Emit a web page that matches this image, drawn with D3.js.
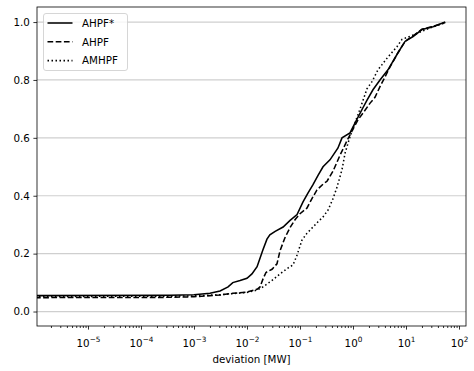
<!DOCTYPE html>
<html>
<head>
<meta charset="utf-8">
<script src="https://cdn.jsdelivr.net/npm/d3@7"></script>
<style>
  body { margin: 0; background: #fff; }
  text { font-family: "DejaVu Sans", sans-serif; fill: #000; }
</style>
</head>
<body>
<div id="chart"></div>
<script>
// ─── Daten ────────────────────────────────────────────────────────────────────

const seriesNames = ['AHPF*', 'AHPF', 'AMHPF'];

// deviation [MW] / kumulierter Anteil
const ahpfStarX = [1e-6, 3.5e-4, 1e-3, 2.0e-3, 3.1e-3, 4.4e-3, 5.4e-3, 7.4e-3, 1.0e-2, 1.24e-2,
  1.55e-2, 2.0e-2, 2.38e-2, 2.7e-2, 3.4e-2, 4.8e-2, 6.5e-2, 8.8e-2, 0.114, 0.142,
  0.176, 0.219, 0.272, 0.368, 0.521, 0.62, 0.877, 1.19, 1.54, 1.84,
  2.38, 3.23, 4.57, 7.06, 9.58, 13.6, 20.0, 32.3, 55];
const ahpfStarY = [0.055, 0.056, 0.058, 0.063, 0.071, 0.085, 0.100, 0.107, 0.115, 0.13,
  0.155, 0.213, 0.25, 0.265, 0.277, 0.292, 0.315, 0.335, 0.379, 0.41,
  0.438, 0.47, 0.50, 0.524, 0.565, 0.60, 0.617, 0.665, 0.704, 0.73,
  0.766, 0.80, 0.835, 0.894, 0.933, 0.95, 0.974, 0.984, 1.0];

const ahpfX = [1e-6, 3.5e-4, 1e-3, 3.1e-3, 5.4e-3, 1.0e-2, 1.55e-2, 1.76e-2, 2.0e-2, 2.28e-2,
  2.97e-2, 3.68e-2, 4.2e-2, 5.2e-2, 6.5e-2, 8.05e-2, 0.1, 0.135, 0.168, 0.209,
  0.272, 0.323, 0.42, 0.569, 0.771, 1.0, 1.24, 1.61, 2.1, 2.6,
  3.23, 4.0, 5.0, 7.06, 9.58, 13.6, 20.0, 32.3, 55];
const ahpfY = [0.048, 0.049, 0.051, 0.057, 0.063, 0.067, 0.077, 0.085, 0.112, 0.135,
  0.146, 0.165, 0.21, 0.255, 0.29, 0.317, 0.338, 0.357, 0.39, 0.42,
  0.44, 0.45, 0.485, 0.54, 0.59, 0.63, 0.662, 0.69, 0.72, 0.74,
  0.777, 0.81, 0.845, 0.894, 0.933, 0.952, 0.975, 0.985, 0.998];

const amhpfX = [1e-6, 3.5e-4, 1e-3, 3.1e-3, 1e-2, 1.55e-2, 2.0e-2, 3.1e-2, 4.2e-2, 5.9e-2,
  7.4e-2, 8.8e-2, 0.109, 0.135, 0.176, 0.219, 0.272, 0.337, 0.42, 0.5,
  0.62, 0.71, 0.877, 1.09, 1.36, 1.84, 2.28, 2.96, 4.38, 6.76,
  8.4, 13.6, 28.4, 49.9, 55];
const amhpfY = [0.052, 0.053, 0.054, 0.058, 0.066, 0.074, 0.085, 0.11, 0.13, 0.15,
  0.161, 0.195, 0.247, 0.27, 0.292, 0.31, 0.327, 0.35, 0.39, 0.43,
  0.49, 0.548, 0.604, 0.652, 0.70, 0.77, 0.794, 0.835, 0.875, 0.915,
  0.94, 0.955, 0.98, 0.995, 1.0];

const yTicks = [0.0, 0.2, 0.4, 0.6, 0.8, 1.0];
const xMajorExp = [-5, -4, -3, -2, -1, 0, 1, 2];

// ─── Layout ───────────────────────────────────────────────────────────────────

const W = 474, H = 371;
const plot = { left: 37, right: 466, top: 7, bottom: 326 };

const svg = d3.select('#chart').append('svg')
  .attr('width', W).attr('height', H);

const x = d3.scaleLog()
  .domain([Math.pow(10, -5.962), Math.pow(10, 2.132)])
  .range([plot.left, plot.right]);

const y = d3.scaleLinear()
  .domain([-0.05, 1.052])
  .range([plot.bottom, plot.top]);

// Gitter (nur horizontal)
svg.append('g').selectAll('line')
  .data(yTicks)
  .enter().append('line')
    .attr('x1', plot.left).attr('x2', plot.right)
    .attr('y1', d => y(d)).attr('y2', d => y(d))
    .attr('stroke', '#cfcfcf')
    .attr('stroke-width', 1.2);

// Linien
svg.append('clipPath').attr('id', 'clip')
  .append('rect')
    .attr('x', plot.left).attr('y', plot.top)
    .attr('width', plot.right - plot.left)
    .attr('height', plot.bottom - plot.top);

const series = [
  { name: seriesNames[0], xs: ahpfStarX, ys: ahpfStarY, dash: null },
  { name: seriesNames[1], xs: ahpfX,     ys: ahpfY,     dash: '5.7,2.5' },
  { name: seriesNames[2], xs: amhpfX,    ys: amhpfY,    dash: '1.5,2.5' },
];

const line = d3.line()
  .x(d => x(d[0]))
  .y(d => y(d[1]));

svg.append('g').attr('clip-path', 'url(#clip)')
  .selectAll('path')
  .data(series)
  .enter().append('path')
    .attr('d', s => line(s.xs.map((v, i) => [v, s.ys[i]])))
    .attr('fill', 'none')
    .attr('stroke', '#000')
    .attr('stroke-width', 1.55)
    .attr('stroke-dasharray', s => s.dash);

// Achsen
const xMinor = [];
xMajorExp.concat([-6]).forEach(e => {
  for (let k = 2; k <= 9; k++) xMinor.push(k * Math.pow(10, e));
});
const dom = x.domain();

const xAxisMinor = d3.axisBottom(x)
  .tickValues(xMinor.filter(v => v >= dom[0] && v <= dom[1]))
  .tickSize(2).tickSizeOuter(0).tickFormat('');

const xAxis = d3.axisBottom(x)
  .tickValues(xMajorExp.map(e => Math.pow(10, e)))
  .tickSize(3.6).tickSizeOuter(0)
  .tickFormat('');

const gxMinor = svg.append('g')
  .attr('transform', `translate(0,${plot.bottom})`)
  .call(xAxisMinor);
const gx = svg.append('g')
  .attr('transform', `translate(0,${plot.bottom})`)
  .call(xAxis);
[gx, gxMinor].forEach(g => {
  g.select('.domain').remove();
  g.selectAll('line').attr('stroke', '#000').attr('stroke-width', 0.8);
});

// Beschriftung 10^n
gx.selectAll('.tick').each(function (d) {
  const e = Math.round(Math.log10(d));
  const t = d3.select(this).append('text')
    .attr('y', 21)
    .attr('text-anchor', 'middle')
    .style('font-size', '10.3px');
  t.append('tspan').text('10');
  t.append('tspan')
    .attr('dy', -5)
    .style('font-size', '7.3px')
    .text(e < 0 ? '\u2212' + (-e) : String(e));
});

const yAxis = d3.axisLeft(y)
  .tickValues(yTicks)
  .tickSize(3.6).tickSizeOuter(0).tickPadding(3.5)
  .tickFormat(d3.format('.1f'));

const gy = svg.append('g')
  .attr('transform', `translate(${plot.left},0)`)
  .call(yAxis);
gy.select('.domain').remove();
gy.selectAll('line').attr('stroke', '#000').attr('stroke-width', 0.8);
gy.selectAll('text')
  .style('font-family', '"DejaVu Sans", sans-serif')
  .style('font-size', '10.3px')
  .attr('fill', '#000');

// Rahmen
svg.append('rect')
  .attr('x', plot.left).attr('y', plot.top)
  .attr('width', plot.right - plot.left)
  .attr('height', plot.bottom - plot.top)
  .attr('fill', 'none')
  .attr('stroke', '#000')
  .attr('stroke-width', 0.8);

// Achsentitel
svg.append('text')
  .attr('x', (plot.left + plot.right) / 2)
  .attr('y', 363)
  .attr('text-anchor', 'middle')
  .style('font-size', '10.3px')
  .text('deviation [MW]');

// Legende
const legend = svg.append('g').attr('transform', 'translate(43.5,13.5)');
legend.append('rect')
  .attr('width', 84).attr('height', 57)
  .attr('rx', 2.5)
  .attr('fill', '#fff').attr('fill-opacity', 0.8)
  .attr('stroke', '#cccccc').attr('stroke-width', 0.8);

const item = legend.selectAll('g.item')
  .data(series)
  .enter().append('g')
    .attr('class', 'item')
    .attr('transform', (_d, i) => `translate(0,${9.5 + i * 18.8})`);

item.append('line')
  .attr('x1', 4).attr('x2', 29)
  .attr('stroke', '#000')
  .attr('stroke-width', 1.55)
  .attr('stroke-dasharray', s => s.dash);

item.append('text')
  .attr('x', 38.5)
  .attr('y', 3.7)
  .style('font-size', '10.3px')
  .text(s => s.name);
</script>
</body>
</html>
